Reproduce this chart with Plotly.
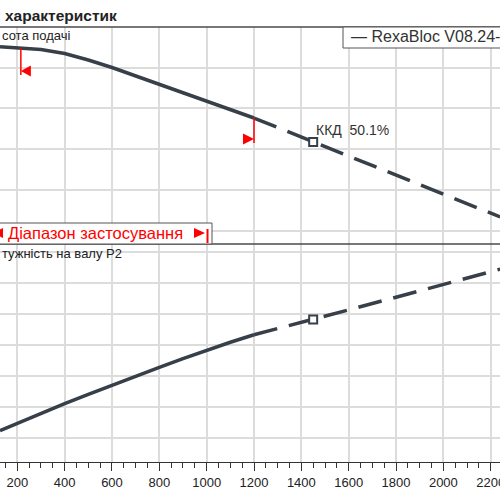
import numpy as np
import plotly.graph_objects as go

# ---- data ----
Q = [127, 200, 300, 400, 500, 600, 700, 800, 900, 1000, 1100, 1200, 1400, 1450, 1600, 1800, 2000, 2200, 2240]
H = [5.758, 5.746, 5.724, 5.675, 5.595, 5.503, 5.399, 5.294, 5.190, 5.086, 4.982, 4.883,
     4.650, 4.589, 4.417, 4.184, 3.951, 3.718, 3.669]
P2 = [0.3118, 0.3237, 0.3397, 0.3555, 0.3705, 0.3853, 0.3998, 0.4140, 0.4279, 0.4413, 0.4544, 0.4665,
      0.4860, 0.4911, 0.5066, 0.5271, 0.5479, 0.5685, 0.5724]
Q_min = 215
Q_max = 1200
Q_op = 1450
eff_label = "ККД&nbsp; 50.1%"
x_ticks = list(range(200, 2201, 200))

FONT = "Liberation Sans, Arial, sans-serif"
DARK = "#373f48"
RED = "#ff0000"
GRID = "#dcdcdc"

Qa = np.array(Q, float)
Ha = np.array(H, float)
Pa = np.array(P2, float)
solid = Qa <= Q_max
dashed = Qa >= Q_max

fig = go.Figure()
line_s = dict(color=DARK, width=3.5)
line_d = dict(color=DARK, width=3.5, dash="24px,12px")

fig.add_trace(go.Scatter(x=Qa[solid], y=Ha[solid], mode="lines", line=line_s, yaxis="y", hoverinfo="skip"))
fig.add_trace(go.Scatter(x=Qa[dashed], y=Ha[dashed], mode="lines", line=line_d, yaxis="y", hoverinfo="skip"))
fig.add_trace(go.Scatter(x=Qa[solid], y=Pa[solid], mode="lines", line=line_s, yaxis="y2", hoverinfo="skip"))
fig.add_trace(go.Scatter(x=Qa[dashed], y=Pa[dashed], mode="lines", line=line_d, yaxis="y2", hoverinfo="skip"))

H_op = float(np.interp(Q_op, Qa, Ha))
P_op = float(np.interp(Q_op, Qa, Pa))
sq = dict(symbol="square", size=8, color="white", line=dict(width=2, color=DARK))
fig.add_trace(go.Scatter(x=[Q_op], y=[H_op], mode="markers", marker=sq, yaxis="y", hoverinfo="skip"))
fig.add_trace(go.Scatter(x=[Q_op], y=[P_op], mode="markers", marker=sq, yaxis="y2", hoverinfo="skip"))

def py(p):
    return 1 - p / 500.0

def px(p):
    return p / 500.0

H_min = float(np.interp(Q_min, Qa, Ha))
H_max = float(np.interp(Q_max, Qa, Ha))

shapes = [
    dict(type="line", xref="paper", yref="paper", x0=0, x1=1, y0=py(27), y1=py(27), line=dict(color="#4a4a4a", width=1.5)),
    dict(type="line", xref="paper", yref="paper", x0=0, x1=1, y0=py(244), y1=py(244), line=dict(color="#4a4a4a", width=1.5)),
    dict(type="rect", xref="paper", yref="paper", x0=-0.03, x1=px(212), y0=py(244), y1=py(223), fillcolor="white", line=dict(color="#555555", width=1)),
    dict(type="rect", xref="paper", yref="paper", x0=px(343), x1=1.03, y0=py(48), y1=py(27), fillcolor="white", line=dict(color="#555555", width=1)),
    dict(type="line", xref="x", yref="y", x0=Q_min, x1=Q_min, ysizemode="pixel", yanchor=H_min, y0=0, y1=-27, line=dict(color=RED, width=1.5)),
    dict(type="path", xref="x", yref="y", xsizemode="pixel", ysizemode="pixel", xanchor=Q_min, yanchor=H_min,
         path="M0,-23 L10,-17.5 L10,-28.5 Z", fillcolor=RED, line=dict(width=0)),
    dict(type="line", xref="x", yref="y", x0=Q_max, x1=Q_max, ysizemode="pixel", yanchor=H_max, y0=0, y1=-25, line=dict(color=RED, width=1.5)),
    dict(type="path", xref="x", yref="y", xsizemode="pixel", ysizemode="pixel", xanchor=Q_max, yanchor=H_max,
         path="M0,-21 L-11,-15.5 L-11,-26.5 Z", fillcolor=RED, line=dict(width=0)),
    dict(type="line", xref="paper", yref="paper", x0=px(207.5), x1=px(207.5), y0=py(243), y1=py(229), line=dict(color=RED, width=2)),
    dict(type="path", xref="paper", yref="paper",
         path=f"M {px(-7)},{py(233)} L {px(3)},{py(228)} L {px(3)},{py(238)} Z", fillcolor=RED, line=dict(width=0)),
    # right-pointing triangle inside the range box
    dict(type="path", xref="paper", yref="paper",
         path=f"M {px(194)},{py(228)} L {px(205)},{py(233)} L {px(194)},{py(238)} Z", fillcolor=RED, line=dict(width=0)),
]

annotations = [
    dict(text="<b>характеристик</b>", xref="paper", yref="paper", x=px(3), y=py(15), xanchor="left", yanchor="middle",
         showarrow=False, font=dict(family=FONT, size=15.5, color="#222222")),
    dict(text="сота подачі", xref="paper", yref="paper", x=px(0), y=py(36), xanchor="left", yanchor="middle",
         showarrow=False, font=dict(family=FONT, size=13, color="#222222")),
    dict(text="— RexaBloc V08.24-", xref="paper", yref="paper", x=px(349), y=py(37), xanchor="left", yanchor="middle",
         showarrow=False, font=dict(family=FONT, size=16, color="#333333")),
    dict(text="Діапазон застосування", xref="paper", yref="paper", x=px(6), y=py(233), xanchor="left", yanchor="middle",
         showarrow=False, font=dict(family=FONT, size=16.5, color=RED)),
    dict(text="тужність на валу P2", xref="paper", yref="paper", x=px(0), y=py(253), xanchor="left", yanchor="middle",
         showarrow=False, font=dict(family=FONT, size=13, color="#222222")),
    dict(text=eff_label, xref="x", yref="y", x=Q_op, y=H_op, xanchor="left", yanchor="middle", xshift=1, yshift=12,
         showarrow=False, font=dict(family=FONT, size=14, color="#333333")),
]

fig.update_layout(
    template="none",
    width=500, height=500,
    margin=dict(l=0, r=0, t=0, b=0, pad=0),
    paper_bgcolor="white", plot_bgcolor="white",
    showlegend=False,
    shapes=shapes,
    annotations=annotations,
    xaxis=dict(domain=[0, 1], range=[126.9, 2239.3], anchor="y2", automargin=False,
               tickvals=x_ticks, ticks="outside", ticklen=8, tickwidth=1, tickcolor="#333333",
               ticklabeloverflow="allow",
               showline=True, linecolor="#333333", linewidth=1,
               showgrid=True, gridcolor=GRID, gridwidth=1.5, zeroline=False,
               minor=dict(dtick=50, tick0=0, ticks="outside", ticklen=5, tickwidth=1, tickcolor="#333333", showgrid=False),
               tickfont=dict(family=FONT, size=13, color="#222222")),
    yaxis=dict(domain=[py(244), py(27)], range=[3.337, 6.0], anchor="x", automargin=False,
               dtick=0.5, tick0=0, showticklabels=False, ticks="", showline=False,
               showgrid=True, gridcolor=GRID, gridwidth=1.5, zeroline=False),
    yaxis2=dict(domain=[py(462), py(244)], range=[0.2613, 0.6129], anchor="x", automargin=False,
                dtick=0.05, tick0=0, showticklabels=False, ticks="", showline=False,
                showgrid=True, gridcolor=GRID, gridwidth=1.5, zeroline=False),
)

fig.write_html("out.html")
